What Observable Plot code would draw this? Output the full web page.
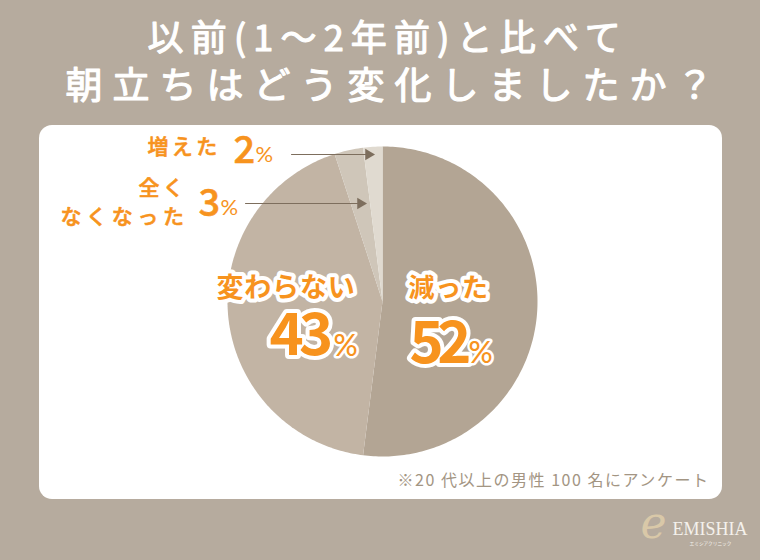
<!DOCTYPE html>
<html><head><meta charset="utf-8">
<script src="https://cdn.jsdelivr.net/npm/d3@7"></script>
<script src="https://cdn.jsdelivr.net/npm/@observablehq/plot@0.6"></script>
<style>
html,body{margin:0;padding:0;background:#b6ab9e;width:760px;height:560px;overflow:hidden}
svg{display:block;background:transparent!important}
.t1 text{letter-spacing:.2em}
.t2 text{letter-spacing:.27em}
.sp1 text{letter-spacing:.16em}
.sp3 text{letter-spacing:.22em}
.sp2 text{letter-spacing:.03em}
.note text{letter-spacing:.095em}
.big text{letter-spacing:-.08em}
.big2 text{letter-spacing:-.11em}
</style></head><body><div id="c"></div>
<script>
const categories = ["減った","変わらない","全くなくなった","増えた"];
const values = [52,43,3,2];
const colors = ["#b3a594","#c2b4a4","#cfc6b9","#e0dad0"];
const titleLines = ["以前(1〜2年前)と比べて","朝立ちはどう変化しましたか？"];
const note = "※20 代以上の男性 100 名にアンケート";

const cx=382, cy=301, R=155;
const arcs = d3.pie().sort(null)(values);
const wedges = arcs.flatMap((a,i)=>{
  const n=Math.max(2,Math.ceil((a.endAngle-a.startAngle)*60));
  const pts=[{c:categories[i],x:cx,y:cy}];
  for(let k=0;k<=n;k++){
    const t=a.startAngle+(a.endAngle-a.startAngle)*k/n;
    pts.push({c:categories[i],x:cx+R*Math.sin(t),y:cy-R*Math.cos(t)});
  }
  pts.push({c:categories[i],x:cx,y:cy});
  return pts;
});
const JP='"Noto Sans CJK JP"';
const OR="#f7931e";
const txt=(s,x,y,o)=>Plot.text([s],{x:[x],y:[y],text:d=>d,fontFamily:JP,lineAnchor:"middle",textAnchor:"start",...o});
const halo={fill:OR,stroke:"#fff",strokeWidth:8,strokeLinejoin:"round",paintOrder:"stroke"};
const soft={stroke:OR,strokeWidth:.6,strokeLinejoin:"round",fill:OR,fontWeight:500};
const titleStyle={fill:"#fff",stroke:"#fff",strokeWidth:1.2,strokeLinejoin:"round",fontWeight:400};
const plot=Plot.plot({
  width:760,height:560,margin:0,
  x:{domain:[0,760],range:[0,760],axis:null},
  y:{domain:[0,560],range:[0,560],axis:null},
  color:{domain:categories,range:colors},
  marks:[
    Plot.rect([0],{x1:[39],x2:[722],y1:[125],y2:[499],fill:"#fff",rx:13}),
    Plot.line(wedges,{x:"x",y:"y",z:"c",fill:"c",stroke:null}),
    Plot.line([{x:291,y:154},{x:366,y:154}],{x:"x",y:"y",stroke:"#7d6e5d",strokeWidth:1}),
    Plot.line([{x:245,y:203},{x:357,y:203}],{x:"x",y:"y",stroke:"#7d6e5d",strokeWidth:1}),
    Plot.dot([{x:368,y:154},{x:360,y:203}],{x:"x",y:"y",symbol:"triangle",r:4.2,rotate:90,fill:"#7d6e5d"}),
    txt(titleLines[0],147,39,{className:"t1",fontSize:36,...titleStyle}),
    txt(titleLines[1],65,87,{className:"t2",fontSize:37,...titleStyle}),
    txt(categories[3],147,147,{...soft,className:"sp1",fontSize:21}),
    txt(String(values[3]),233,150,{...soft,fontSize:38}),
    txt("%",255,154,{...soft,fontSize:22,fontWeight:400,fontFamily:"Lato",strokeWidth:0}),
    txt("全く",138,188,{...soft,className:"sp1",fontSize:21}),
    txt("なくなった",60,217,{...soft,className:"sp3",fontSize:21}),
    txt(String(values[2]),198,203,{...soft,fontSize:38}),
    txt("%",220,207,{...soft,fontSize:22,fontWeight:400,fontFamily:"Lato",strokeWidth:0}),
    txt(categories[1],216,288,{...halo,className:"sp2",fontSize:27,fontWeight:700}),
    txt(String(values[1]),269,336,{...halo,className:"big",fontSize:58,fontWeight:700}),
    txt("%",333,346,{...halo,strokeWidth:5,fontSize:30,fontWeight:500,fontFamily:"Lato"}),
    txt(categories[0],408,288,{...halo,className:"sp2",fontSize:26,fontWeight:700}),
    txt(String(values[0]),409,344,{...halo,className:"big2",fontSize:58,fontWeight:700}),
    txt("%",468,353,{...halo,strokeWidth:5,fontSize:30,fontWeight:500,fontFamily:"Lato"}),
    txt(note,397,480,{className:"note",fontSize:16,fill:"#a39583"}),
    txt("e",640,523,{fontSize:44,fill:"#d9c8a8",fontFamily:"DejaVu Serif",fontStyle:"italic"}),
    txt("EMISHIA",672,529,{fontSize:18,fill:"#f4f1ec",fontFamily:"Liberation Serif"}),
    txt("エミシアクリニック",689,543,{fontSize:4.7,fill:"#f4f1ec"})
  ]
});
document.getElementById("c").append(plot);
</script></body></html>
